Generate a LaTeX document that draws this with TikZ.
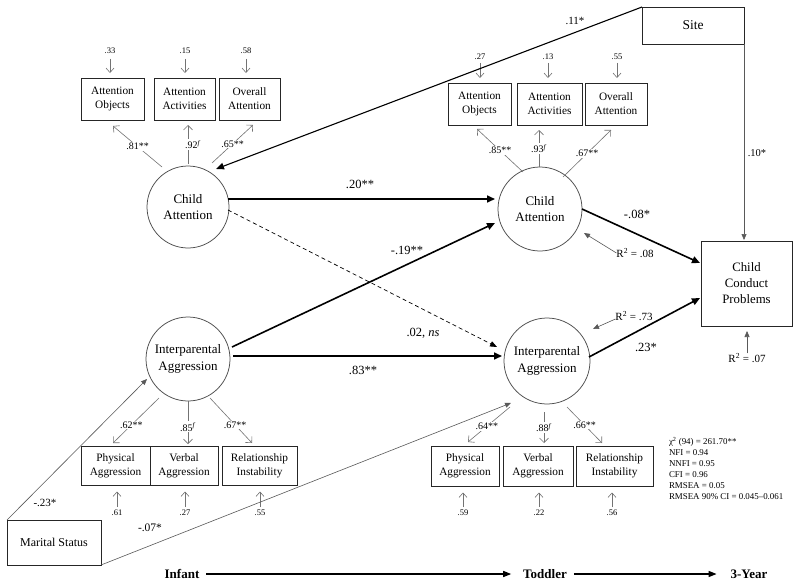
\documentclass[tikz,border=0pt]{standalone}
\usepackage{fontspec}
\setmainfont{Liberation Serif}
\usetikzlibrary{arrows.meta,calc}
\begin{document}
\begin{tikzpicture}[x=1pt,y=-1pt,
  every node/.style={inner sep=0pt, outer sep=0pt},
  obsbox/.style={draw=black!85, line width=0.85pt, align=center, font=\fontsize{11.3}{14}\selectfont},
  latent/.style={circle, draw=black!70, line width=0.75pt, align=center, font=\fontsize{13}{16.5}\selectfont},
  loadline/.style={draw=black!55, line width=0.6pt, -{Straight Barb[length=4.5pt,width=9pt]}},
  errline/.style={draw=black!55, line width=0.6pt, -{Straight Barb[length=4.5pt,width=8pt]}},
  errlab/.style={font=\fontsize{8.5}{10}\selectfont},
  loadlab/.style={font=\fontsize{10}{12}\selectfont, fill=white, inner sep=1pt},
  pathlab/.style={font=\fontsize{12.5}{15}\selectfont},
  strong/.style={line width=1.6pt, -{Triangle[length=8pt,width=7pt]}},
  thinarrow/.style={draw=black!65, line width=0.6pt, -{Triangle[length=6pt,width=5pt]}},
  rlab/.style={font=\fontsize{11}{13}\selectfont},
  timelab/.style={font=\bfseries\fontsize{13}{15}\selectfont},
  timearrow/.style={line width=1.3pt, -{Triangle[length=8pt,width=6pt]}},
]
\fill[white] (0,0) rectangle (800,586);
\useasboundingbox (0,0) rectangle (800,586);

% latent variables
\node[latent, minimum size=82pt] (CA1) at (188,207) {Child\\Attention};
\node[latent, minimum size=84pt] (CA2) at (540,209) {Child\\Attention};
\node[latent, minimum size=84pt] (IA1) at (188,359) {Interparental\\Aggression};
\node[latent, minimum size=86pt] (IA2) at (547,361) {Interparental\\Aggression};

% indicators, infant attention
\node[obsbox, minimum width=63pt, minimum height=42pt] (AO1) at (112.5,99) {Attention\\Objects};
\node[obsbox, minimum width=61pt, minimum height=42pt] (AA1) at (184.5,99) {Attention\\Activities};
\node[obsbox, minimum width=61pt, minimum height=42pt] (OA1) at (249.5,99) {Overall\\Attention};
% indicators, toddler attention
\node[obsbox, minimum width=63pt, minimum height=42pt] (AO2) at (479.5,104) {Attention\\Objects};
\node[obsbox, minimum width=65pt, minimum height=42pt] (AA2) at (549.5,104) {Attention\\Activities};
\node[obsbox, minimum width=62pt, minimum height=42pt] (OA2) at (616,104) {Overall\\Attention};
% indicators, infant aggression
\node[obsbox, minimum width=69pt, minimum height=39pt] (PA1) at (115.5,465.5) {Physical\\Aggression};
\node[obsbox, minimum width=68pt, minimum height=39pt] (VA1) at (184,465.5) {Verbal\\Aggression};
\node[obsbox, minimum width=75pt, minimum height=39pt] (RI1) at (259.5,465.5) {Relationship\\Instability};
% indicators, toddler aggression
\node[obsbox, minimum width=68pt, minimum height=40pt] (PA2) at (465,466) {Physical\\Aggression};
\node[obsbox, minimum width=70pt, minimum height=40pt] (VA2) at (538,466) {Verbal\\Aggression};
\node[obsbox, minimum width=77pt, minimum height=40pt] (RI2) at (614.5,466) {Relationship\\Instability};

% other observed
\node[obsbox, minimum width=102pt, minimum height=37pt, font=\fontsize{13.5}{16}\selectfont] (Site) at (693,25.5) {Site};
\node[obsbox, minimum width=91pt, minimum height=85pt, font=\fontsize{12.8}{16}\selectfont] (CCP) at (746.5,283.5) {Child\\Conduct\\Problems};
\node[obsbox, minimum width=94pt, minimum height=45pt, font=\fontsize{12}{14}\selectfont] (MS) at (54,542.5) {Marital Status};

% loadings
\draw[loadline] ($(CA1)+(-26,-40)$) -- node[loadlab] (L1) {.81**} ($(AO1.south)+(0.5,6)$);
\draw[loadline] ($(CA1)+(0,-43)$) -- node[loadlab, xshift=5pt] (L2) {.92\textsuperscript{\textit{f}}} ($(AA1.south)+(3.5,5)$);
\draw[loadline] ($(CA1)+(24,-44)$) -- node[loadlab] (L3) {.65**} ($(OA1.south)+(3.5,5)$);
\draw[loadline] ($(CA2)+(-17,-37)$) -- node[loadlab] (L4) {.85**} ($(AO2.south)+(-2.5,4)$);
\draw[loadline] ($(CA2)+(-1,-42)$) -- node[loadlab] (L5) {.93\textsuperscript{\textit{f}}} ($(AA2.south)+(-10.5,5)$);
\draw[loadline] ($(CA2)+(23,-32)$) -- node[loadlab] (L6) {.67**} ($(OA2.south)+(-5,5)$);
\draw[loadline] ($(IA1)+(-29,39)$) -- node[loadlab, pos=0.6] (L7) {.62**} ($(PA1.north)+(-2.5,-3)$);
\draw[loadline] ($(IA1)+(0,42)$) -- node[loadlab, pos=0.6] (L8) {.85\textsuperscript{\textit{f}}} ($(VA1.north)+(4,-2)$);
\draw[loadline] ($(IA1)+(22,39)$) -- node[loadlab, pos=0.6] (L9) {.67**} ($(RI1.north)+(-7.5,-3)$);
\draw[loadline] ($(IA2)+(-37,46)$) -- node[loadlab, pos=0.55] (L10) {.64**} ($(PA2.north)+(3,-4)$);
\draw[loadline] ($(IA2)+(-3,51)$) -- node[loadlab] (L11) {.88\textsuperscript{\textit{f}}} ($(VA2.north)+(6,-3)$);
\draw[loadline] ($(IA2)+(20,46)$) -- node[loadlab] (L12) {.66**} ($(RI2.north)+(-12.5,-3)$);

% error terms
\node[errlab] (e1) at (110,51) {.33};
\node[errlab] (e2) at (185,51) {.15};
\node[errlab] (e3) at (246,51) {.58};
\node[errlab] (e4) at (480,57) {.27};
\node[errlab] (e5) at (548,57) {.13};
\node[errlab] (e6) at (617,57) {.55};
\node[errlab] (e7) at (117,513) {.61};
\node[errlab] (e8) at (185,513) {.27};
\node[errlab] (e9) at (260,513) {.55};
\node[errlab] (e10) at (463,513) {.59};
\node[errlab] (e11) at (539,513) {.22};
\node[errlab] (e12) at (612,513) {.56};
\foreach \e/\b in {e1/AO1,e2/AA1,e3/OA1}
  \draw[errline, shorten <=5pt, shorten >=5pt] (\e.south) -- (\e.south |- \b.north);
\foreach \e/\b in {e4/AO2,e5/AA2,e6/OA2}
  \draw[errline, shorten <=3pt, shorten >=5pt] (\e.south) -- (\e.south |- \b.north);
\foreach \e/\b in {e7/PA1,e8/VA1,e9/RI1,e10/PA2,e11/VA2,e12/RI2}
  \draw[errline, shorten <=3pt, shorten >=6.5pt] (\e.north) -- (\e.north |- \b.south);

% structural paths
\draw[strong] ($(CA1)+(40,-8)$) -- ($(CA2)+(-45,-10)$);
\draw[strong] ($(IA1)+(44,-12)$) -- ($(CA2)+(-45,14)$);
\draw[strong] ($(IA1)+(45,-3)$) -- ($(IA2)+(-45,-5)$);
\draw[line width=0.7pt, dashed, dash pattern=on 4pt off 3pt, -{Triangle[length=7pt,width=5.5pt]}] ($(CA1)+(40,3)$) -- ($(IA2)+(-50,-14)$);
\draw[strong] ($(CA2)+(42,0)$) -- ($(CCP)+(-46.5,-20.5)$);
\draw[strong] ($(IA2)+(42,-4)$) -- ($(CCP)+(-46.5,14.5)$);
\draw[line width=1.1pt, -{Triangle[length=8pt,width=6.5pt]}] (Site.north west) -- ($(CA1)+(28,-38)$);
\draw[thinarrow] (Site.south east) -- ($(CCP.north)+(-2.5,-1)$);
\draw[thinarrow] (MS.north west) -- ($(IA1)+(-41,20)$);
\draw[thinarrow] (MS.south east) -- ($(IA2)+(-36,42)$);

% path labels
\node[pathlab] (p20) at (360,184) {.20**};
\node[pathlab] (p19) at (407,250) {-.19**};
\node[pathlab] (p02) at (423,333) {.02, \textit{ns}};
\node[pathlab] (p83) at (363,370) {.83**};
\node[pathlab] (p08) at (637,214) {-.08*};
\node[pathlab] (p23) at (646,347) {.23*};
\node[font=\fontsize{11}{13}\selectfont] (p11) at (575,21) {.11*};
\node[font=\fontsize{10.5}{12}\selectfont] (p10) at (757,153) {.10*};
\node[font=\fontsize{11}{13}\selectfont] (pm23) at (45,503) {-.23*};
\node[font=\fontsize{11.5}{13}\selectfont] (pm07) at (150,528) {-.07*};

% R squared
\node[rlab] (r08) at (635,253) {R\textsuperscript{2} = .08};
\node[rlab] (r73) at (634,316) {R\textsuperscript{2} = .73};
\node[rlab] (r07) at (747,358) {R\textsuperscript{2} = .07};
\draw[thinarrow] (r08.west) -- ($(CA2)+(44,24)$);
\draw[thinarrow] ($(r73.west)+(0,3)$) -- ($(IA2)+(46,-32)$);
\draw[thinarrow, shorten >=5pt] (r07.north) -- (r07.north |- CCP.south);

% fit statistics
\node[anchor=north west, align=left, font=\fontsize{8.9}{11}\selectfont] (fit) at (669,437)
  {χ\textsuperscript{2} (94) = 261.70**\\NFI = 0.94\\NNFI = 0.95\\CFI = 0.96\\RMSEA = 0.05\\RMSEA 90\% CI = 0.045–0.061};

% time axis
\node[timelab] (tInf) at (182,574) {Infant};
\node[timelab] (tTod) at (545,574) {Toddler};
\node[timelab] (t3Y) at (749,574) {3-Year};
\draw[timearrow, shorten <=7pt, shorten >=12pt] (tInf.east) -- (tTod.west);
\draw[timearrow, shorten <=7pt, shorten >=14pt] (tTod.east) -- (t3Y.west);
\end{tikzpicture}
\end{document}
